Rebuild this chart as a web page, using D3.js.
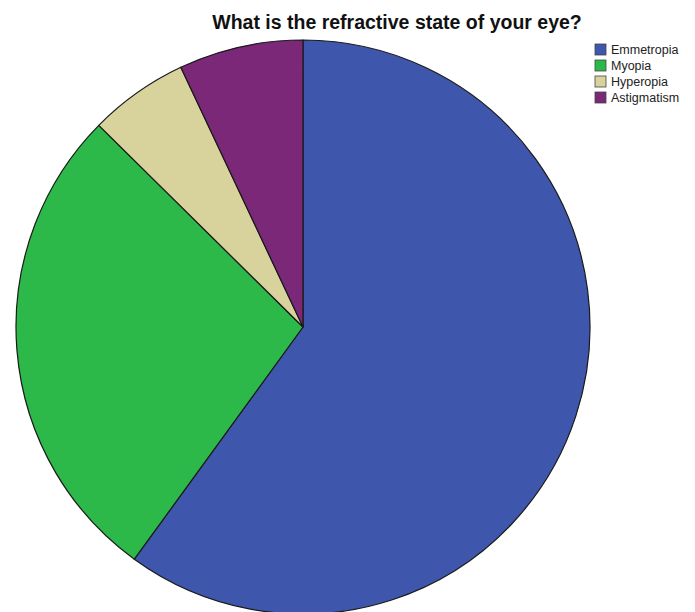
<!DOCTYPE html>
<html>
<head>
<meta charset="utf-8">
<script src="https://cdn.jsdelivr.net/npm/d3@7"></script>
<style>
  body { margin: 0; background: #fff; }
  text { font-family: "Liberation Sans", Arial, sans-serif; }
</style>
</head>
<body>
<script>
// refractive state answers, in percent
var categories = ["Emmetropia", "Myopia", "Hyperopia", "Astigmatism"];
var percents = [60.0, 27.4, 5.6, 7.0];
var colours = ["#3f56ad", "#2db84a", "#d8d29c", "#7b2878"];
var title = "What is the refractive state of your eye?";

var svg = d3.select("body").append("svg")
  .attr("width", 695)
  .attr("height", 612);

var cx = 303, cy = 327, r = 287;

var data = categories.map(function (c, i) {
  return { name: c, value: percents[i], colour: colours[i] };
});

var pie = d3.pie()
  .sort(null)
  .value(function (d) { return d.value; });

var arc = d3.arc()
  .innerRadius(0)
  .outerRadius(r);

var g = svg.append("g")
  .attr("transform", "translate(" + cx + "," + cy + ")");

g.selectAll("path")
  .data(pie(data))
  .enter().append("path")
  .attr("d", arc)
  .style("fill", function (d) { return d.data.colour; })
  .style("stroke", "#1a1a1a")
  .style("stroke-width", 1.2)
  .style("stroke-linejoin", "round");

svg.append("text")
  .attr("x", 397)
  .attr("y", 29)
  .style("text-anchor", "middle")
  .style("font-size", "19.5px")
  .style("font-weight", "bold")
  .style("fill", "#111")
  .text(title);

var legend = svg.append("g")
  .attr("transform", "translate(595,44)");

var row = legend.selectAll("g")
  .data(data)
  .enter().append("g")
  .attr("transform", function (d, i) { return "translate(0," + (i * 16) + ")"; });

row.append("rect")
  .attr("width", 11)
  .attr("height", 11)
  .style("fill", function (d) { return d.colour; })
  .style("stroke", "#444")
  .style("stroke-width", 0.8);

row.append("text")
  .attr("x", 16)
  .attr("y", 10)
  .style("font-size", "12.5px")
  .style("fill", "#222")
  .text(function (d) { return d.name; });
</script>
</body>
</html>
